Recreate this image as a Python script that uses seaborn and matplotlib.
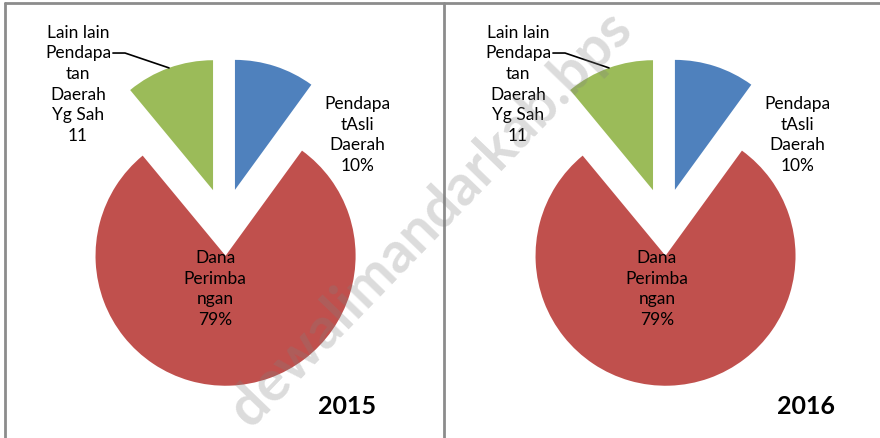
import numpy as np
import seaborn as sns
import matplotlib.pyplot as plt
from matplotlib.lines import Line2D

sns.set_theme(style="white")
plt.rcParams['font.family'] = ['Lato', 'DejaVu Sans']

# data
kategori = ['Pendapatan Asli Daerah', 'Dana Perimbangan', 'Lain lain Pendapatan Daerah Yg Sah']
tahun = ['2015', '2016']
porsi_2015 = [10, 79, 11]
porsi_2016 = [10, 79, 11]
label_2015 = ['Pendapa\ntAsli\nDaerah\n10%', 'Dana\nPerimba\nngan\n79%', 'Lain lain\nPendapa\ntan\nDaerah\nYg Sah\n11']
label_2016 = ['Pendapa\ntAsli\nDaerah\n10%', 'Dana\nPerimba\nngan\n79%', 'Lain lain\nPendapa\ntan\nDaerah\nYg Sah\n11']

warna = sns.color_palette(['#4F81BD', '#C0504D', '#9BBB59'])

fig = plt.figure(figsize=(8.8, 4.38), dpi=100)

# panel kiri / kanan (posisi dalam pixel)
panel = [
    dict(rect=[5/880, 0, 439/880, 1], xlim=(-1.688, 1.688), red_dx=-0.073, th_x=0.94),
    dict(rect=[444/880, 0, 436/880, 1], xlim=(-1.696, 1.658), red_dx=-0.058, th_x=1.085),
]

for p, nilai, lbl, th in zip(panel, [porsi_2015, porsi_2016], [label_2015, label_2016], tahun):
    ax = fig.add_axes(p['rect'])
    wedges, _ = ax.pie(nilai, colors=warna, startangle=90, counterclock=False,
                       explode=[0.26] * 3, radius=1, wedgeprops=dict(linewidth=0))
    ax.set_aspect('auto')
    ax.set_xlim(*p['xlim'])
    ax.set_ylim(-1.662, 1.708)
    ax.axis('off')

    fs = 12.5
    # label Pendapatan Asli Daerah
    ax.text(1.02, 0.67, lbl[0], ha='center', va='center', fontsize=fs, linespacing=1.36, color='black')
    # label Dana Perimbangan
    ax.text(p['red_dx'], -0.515, lbl[1], ha='center', va='center', fontsize=fs, linespacing=1.36, color='black')
    # label Lain lain + garis penunjuk
    ax.text(-1.127, 1.06, lbl[2], ha='center', va='center', fontsize=fs, linespacing=1.36, color='black')
    w = wedges[2]
    mid = np.deg2rad((w.theta1 + w.theta2) / 2)
    ex = w.center[0] + w.r * np.cos(mid)
    ey = w.center[1] + w.r * np.sin(mid)
    ax.plot([-0.858, -0.765, ex], [1.300, 1.300, ey], color='black', lw=1.2, clip_on=False)

    ax.text(p['th_x'], -1.42, th, ha='center', va='center', fontsize=18, fontweight='bold', color='black')

# bingkai
garis_kw = dict(color='#8c8c8c', lw=2, transform=fig.transFigure)
fig.add_artist(Line2D([5/880, 5/880], [0, 1 - 3/438], **garis_kw))
fig.add_artist(Line2D([5/880, 1], [1 - 3/438, 1 - 3/438], **garis_kw))
fig.add_artist(Line2D([444/880, 444/880], [0, 1 - 3/438], **garis_kw))

# watermark
fig.text(0.49, 0.5, 'dewalimandarkab.bps', rotation=46, rotation_mode='anchor',
         ha='center', va='center', fontsize=41, fontweight='bold', color='gray', alpha=0.28, zorder=10)

fig.savefig('out.png', dpi=100)
